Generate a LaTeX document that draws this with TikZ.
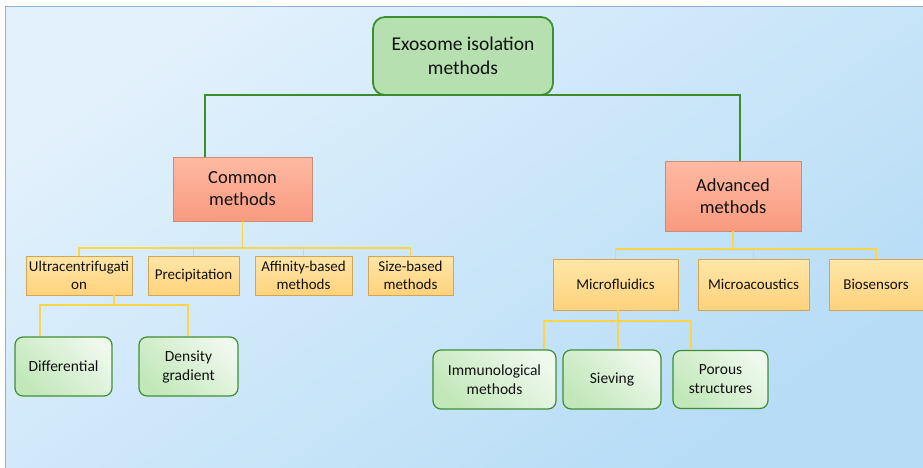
\documentclass[tikz,border=0pt]{standalone}
\usepackage{fontspec}
\setmainfont{Carlito}
\definecolor{bgA}{HTML}{E2F1FC}
\definecolor{bgB}{HTML}{B6DCF6}
\definecolor{frameC}{HTML}{8DB4D6}
\definecolor{rootF}{HTML}{B6E0B0}
\definecolor{darkG}{HTML}{3F8F32}
\definecolor{salA}{HTML}{FFBAA3}
\definecolor{salB}{HTML}{F89A80}
\definecolor{salD}{HTML}{CC8C78}
\definecolor{yelA}{HTML}{FFE6A8}
\definecolor{yelB}{HTML}{FFD27C}
\definecolor{yelD}{HTML}{D4A553}
\definecolor{leafA}{HTML}{C2E8BA}
\definecolor{leafB}{HTML}{EEF8EC}
\definecolor{yline}{HTML}{FFD447}
\definecolor{gline}{HTML}{3C8C2C}
\definecolor{txt}{HTML}{111111}
\begin{document}
\begin{tikzpicture}[x=1pt,y=-1pt,
  box/.style={rectangle, inner sep=0pt, align=center, text=txt},
  rootbox/.style={box, rounded corners=12pt, draw=darkG, line width=1.8pt, fill=rootF,
    font=\fontsize{19.5}{23.5}\selectfont},
  catbox/.style={box, draw=salD, line width=0.8pt, top color=salA, bottom color=salB,
    font=\fontsize{18.5}{22}\selectfont},
  subbox/.style={box, draw=yelD, line width=0.8pt, top color=yelA, bottom color=yelB,
    font=\fontsize{15}{18}\selectfont},
  leafbox/.style={box, rounded corners=8pt, draw=darkG, line width=1.2pt,
    top color=leafA, bottom color=leafB, shading angle=135,
    font=\fontsize{15.5}{19}\selectfont},
  gl/.style={draw=gline, line width=2pt},
  yl/.style={draw=yline, line width=1.4pt},
  ylt/.style={draw=yline, line width=2.6pt}
]
\useasboundingbox (0,0) rectangle (923,468);
\fill[white] (0,0) rectangle (923,468);
\shade[top color=bgA, bottom color=bgB, shading angle=35] (5,7) rectangle (923,468);
\draw[frameC, line width=1pt] (5,468) -- (5,7) -- (923,7);

% nodes
\node[rootbox, minimum width=180, minimum height=78] (root) at (463,56) {Exosome isolation\\methods};
\node[catbox, minimum width=139, minimum height=64] (common) at (242.5,189) {Common\\methods};
\node[catbox, minimum width=136, minimum height=70] (adv) at (733,196) {Advanced\\methods};

\node[subbox, minimum width=106, minimum height=39] (ultra) at (79,275.5) {Ultracentrifugati\\on};
\node[subbox, minimum width=91, minimum height=39] (precip) at (193.5,275.5) {Precipitation};
\node[subbox, minimum width=97, minimum height=39] (affin) at (303.5,275.5) {Affinity-based\\methods};
\node[subbox, minimum width=85, minimum height=39] (size) at (410.5,275.5) {Size-based\\methods};

\node[subbox, minimum width=125, minimum height=51] (micro) at (615.5,284.5) {Microfluidics};
\node[subbox, minimum width=111, minimum height=51] (macou) at (753.5,284.5) {Microacoustics};
\node[subbox, minimum width=94, minimum height=51] (bios) at (876,284.5) {Biosensors};

\node[leafbox, minimum width=97, minimum height=59] (diff) at (63.5,366.5) {Differential};
\node[leafbox, minimum width=99, minimum height=59] (dens) at (188.5,366.5) {Density\\gradient};

\node[leafbox, minimum width=123, minimum height=59] (immu) at (494.5,379.5) {Immunological\\methods};
\node[leafbox, minimum width=98, minimum height=59] (siev) at (612,379.5) {Sieving};
\node[leafbox, minimum width=95, minimum height=58] (poro) at (720.5,379.5) {Porous\\structures};

% green connectors
\coordinate (gjl) at (205,95);
\coordinate (gjr) at (740,95);
\draw[gl] (gjl |- common.north) -- (gjl) -- (gjr) -- (gjr |- adv.north);

% yellow: common
\coordinate (b1) at (242.5,248);
\draw[yl] (common.south) -- (b1);
\draw[yl] (ultra.north) -- (ultra.north |- b1) -- (size.north |- b1) -- (size.north);
\draw[yl] (precip.north) -- (precip.north |- b1);
\draw[yl] (affin.north) -- (affin.north |- b1);

% yellow: advanced
\coordinate (b2) at (733,249);
\draw[yl] (adv.south) -- (b2);
\draw[yl] (micro.north) -- (micro.north |- b2) -- (bios.north |- b2) -- (bios.north);
\draw[yl] (macou.north) -- (macou.north |- b2);

% yellow: ultracentrifugation
\coordinate (uj) at (114,305);
\coordinate (ul) at (40,305);
\coordinate (ur) at (188,305);
\draw[ylt] (uj |- ultra.south) -- (uj);
\draw[yl] (ul |- diff.north) -- (ul) -- (ur) -- (ur |- dens.north);

% yellow: microfluidics
\coordinate (mj) at (618,321);
\coordinate (ml) at (544,321);
\coordinate (mr) at (691,321);
\draw[ylt] (mj |- micro.south) -- (mj |- siev.north);
\draw[yl] (ml |- immu.north) -- (ml) -- (mr) -- (mr |- poro.north);
\end{tikzpicture}
\end{document}
